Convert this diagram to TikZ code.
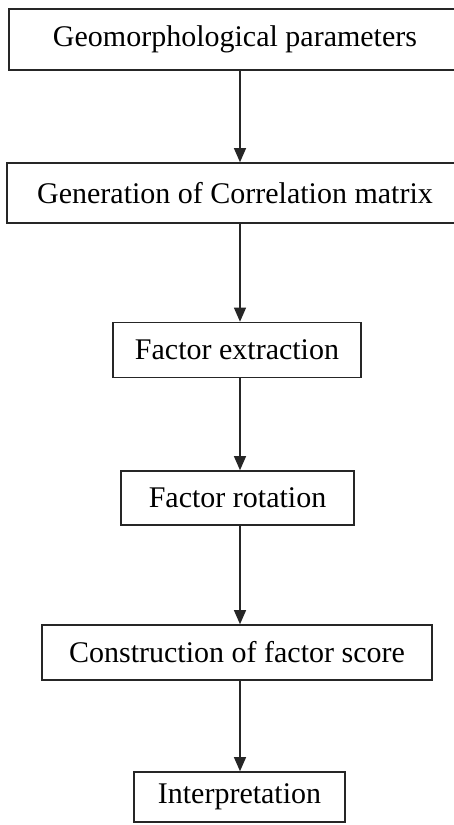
\documentclass[tikz,border=0pt]{standalone}
\usepackage{fontspec}
\setmainfont{Liberation Serif}
\usetikzlibrary{arrows.meta}
\begin{document}
\begin{tikzpicture}[x=1pt,y=1pt,
  stepbox/.style={draw=black!85, line width=1.6pt, inner sep=0pt, font=\fontsize{30}{34}\selectfont},
  flow/.style={draw=black!85, line width=1.1pt, -{Triangle[length=14pt,width=12pt]}}]
\useasboundingbox (0,0) rectangle (454,-825);
\node[stepbox, minimum width=452pt, minimum height=61pt] (a1) at (235,-39.5) {Geomorphological parameters};
\node[stepbox, minimum width=456pt, minimum height=60pt] (a2) at (235,-193) {Generation of Correlation matrix};
\node[stepbox, minimum width=248pt, minimum height=55pt] (a3) at (237,-350) {Factor extraction};
\node[stepbox, minimum width=233pt, minimum height=54pt] (a4) at (237.5,-498) {Factor rotation};
\node[stepbox, minimum width=390pt, minimum height=55pt] (a5) at (237,-652.5) {Construction of factor score};
\node[stepbox, minimum width=211pt, minimum height=50pt] (a6) at (239.5,-797) {Interpretation};
\coordinate (ax) at (240,0);
\draw[flow] (a1.south -| ax) -- (a2.north -| ax);
\draw[flow] (a2.south -| ax) -- (a3.north -| ax);
\draw[flow] (a3.south -| ax) -- (a4.north -| ax);
\draw[flow] (a4.south -| ax) -- (a5.north -| ax);
\draw[flow] (a5.south -| ax) -- (a6.north -| ax);
\end{tikzpicture}
\end{document}
